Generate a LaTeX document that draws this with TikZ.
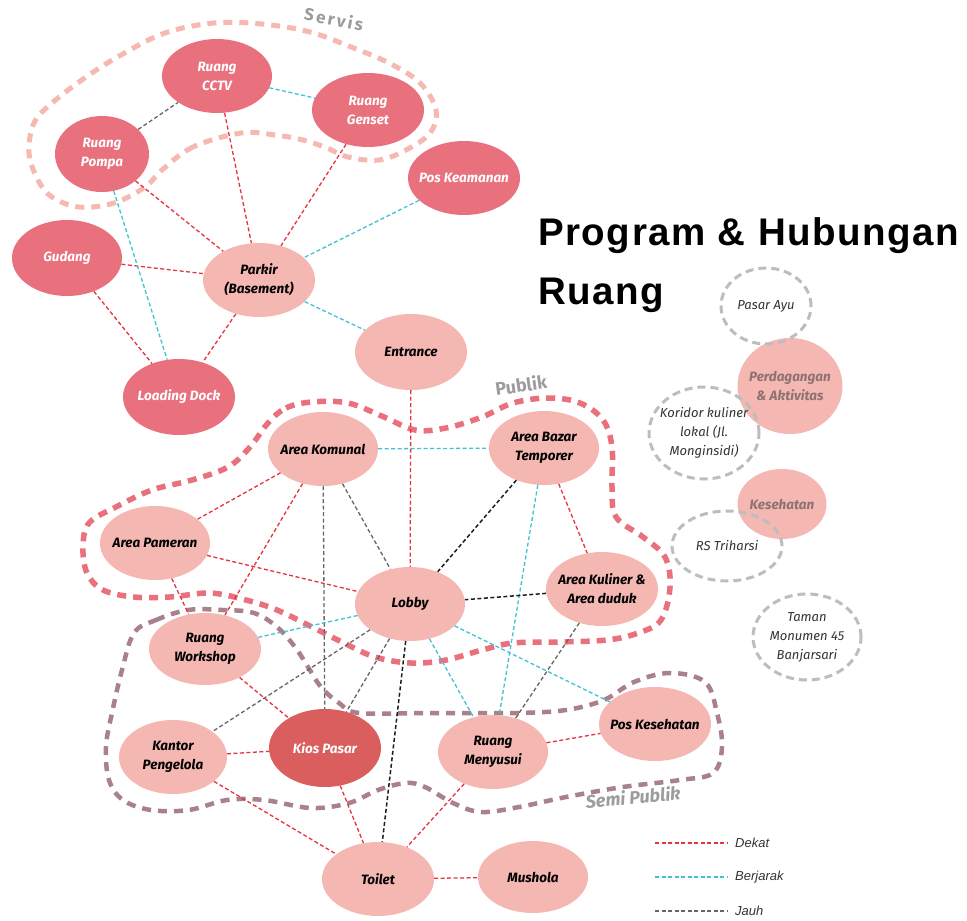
\documentclass[tikz,border=0pt]{standalone}
\usepackage{fontspec}
\setmainfont{Fira Sans}
\newfontfamily\titlefont[LetterSpace=4]{Liberation Sans}
\newfontfamily\legfont{Liberation Sans}
\newfontfamily\zfont[LetterSpace=14]{Fira Sans}
\usetikzlibrary{shapes.geometric}
\definecolor{srv}{HTML}{E9707D}
\definecolor{lite}{HTML}{F4B7B1}
\definecolor{kiosc}{HTML}{DA5E5E}
\definecolor{dk}{HTML}{E5333F}
\definecolor{bj}{HTML}{3EC3D5}
\definecolor{jh}{HTML}{666666}
\definecolor{jb}{HTML}{1E1E1E}
\definecolor{zsrv}{HTML}{F5B9B2}
\definecolor{zpub}{HTML}{E9707D}
\definecolor{zsemi}{HTML}{A9808B}
\definecolor{lbl}{HTML}{9C9C9C}
\definecolor{extc}{HTML}{BDBDBD}
\definecolor{exttext}{HTML}{333333}
\definecolor{cat}{HTML}{8E7272}
\begin{document}
\begin{tikzpicture}[x=1pt,y=-1pt,
  sz/.style 2 args={minimum width=#1pt, minimum height=#2pt},
  room/.style={ellipse, inner xsep=-14pt, inner ysep=-6pt, align=center, font=\fontsize{13.5}{19}\selectfont\bfseries\itshape},
  srvroom/.style={room, fill=srv, text=white},
  pubroom/.style={room, fill=lite, text=black},
  kiosroom/.style={room, fill=kiosc, text=white},
  catroom/.style={room, fill=lite, text=cat},
  ext/.style={ellipse, inner xsep=-14pt, inner ysep=-8pt, align=center, draw=extc, line width=3pt, dash pattern=on 8pt off 5pt, text=exttext, font=\fontsize{13}{19}\selectfont\itshape},
  dekat/.style={draw=dk, line width=1.3pt, dash pattern=on 4pt off 2.5pt},
  berjarak/.style={draw=bj, line width=1.3pt, dash pattern=on 4pt off 2.5pt},
  jauh/.style={draw=jh, line width=1.3pt, dash pattern=on 4pt off 2.5pt},
  jauhb/.style={draw=jb, line width=1.5pt, dash pattern=on 4pt off 2.5pt},
  zone/.style={line width=5pt, dash pattern=on 9pt off 7pt, line cap=butt},
  zlabel/.style={text=lbl, font=\fontsize{18}{20}\selectfont\bfseries}
]
\useasboundingbox (0,0) rectangle (967,921);
\fill[white] (0,0) rectangle (967,921);

% zones
\draw[zone, draw=zsrv] plot[smooth cycle, tension=0.6] coordinates {
 (241,133) (193,147) (162,170) (145,187) (114,203) (79,207) (52,197) (38,180) (29,153) (34,123) (52,103) (86,77) (121,55) (165,33) (214,23) (262,24) (310,32) (351,47) (389,63) (420,83) (436,110) (430,133) (406,150) (379,160) (348,157) (327,148) (303,140) (275,135)};
\draw[zone, draw=zpub, line width=5.5pt] plot[smooth cycle, tension=0.6] coordinates {
 (268,423) (286,408) (312,402) (348,403) (384,417) (415,430) (446,428) (482,417) (513,403) (549,398) (580,403) (603,420) (612,447) (612,487) (616,517) (643,537) (665,557) (670,587) (661,620) (638,633) (607,640) (558,642) (513,643) (482,650) (446,660) (411,663) (375,657) (344,643) (312,627) (277,610) (246,600) (210,593) (170,597) (134,597) (103,590) (87,573) (83,547) (89,523) (116,507) (152,490) (192,480) (228,467) (250,447)};
\draw[zone, draw=zsemi, line width=4.5pt] plot[smooth cycle, tension=0.6] coordinates {
 (134,633) (156,620) (188,610) (223,610) (254,613) (277,627) (295,647) (308,667) (321,687) (339,703) (359,713) (425,713) (472,713) (519,713) (566,710) (604,700) (634,682) (670,673) (705,682) (717,713) (722,747) (713,773) (680,780) (623,787) (566,797) (519,807) (481,812) (453,803) (425,787) (406,783) (378,790) (349,803) (311,808) (264,800) (227,800) (189,810) (151,810) (123,800) (109,780) (106,747) (112,713) (122,670)};

\node[zlabel, rotate=-11, font=\zfont\fontsize{17}{20}\selectfont\bfseries] (lservis) at (334,19) {Servis};
\node[zlabel, rotate=8] (lpublik) at (521,385) {Publik};
\node[zlabel, rotate=5, font=\fontsize{18}{20}\selectfont\bfseries\itshape] (lsemi) at (633,797) {Semi Publik};

% nodes
\node[srvroom, sz={110}{74}] (cctv) at (217,76) {Ruang\\CCTV};
\node[srvroom, sz={112}{74}] (genset) at (368,110) {Ruang\\Genset};
\node[srvroom, sz={94}{76}] (pompa) at (102,154) {Ruang\\Pompa};
\node[srvroom, sz={112}{74}] (poskeam) at (464,178) {Pos Keamanan};
\node[srvroom, sz={110}{76}] (gudang) at (67,258) {Gudang};
\node[pubroom, sz={112}{74}] (parkir) at (259,280) {Parkir\\(Basement)};
\node[pubroom, sz={112}{76}] (entrance) at (411,352) {Entrance};
\node[srvroom, sz={112}{76}] (loading) at (179,397) {Loading Dock};
\node[pubroom, sz={110}{74}] (komunal) at (323,449) {Area Komunal};
\node[pubroom, sz={110}{74}] (bazar) at (544,448) {Area Bazar\\Temporer};
\node[pubroom, sz={110}{74}] (pameran) at (155,543) {Area Pameran};
\node[pubroom, sz={110}{74}] (lobby) at (410,604) {Lobby};
\node[pubroom, sz={112}{74}] (kuliner) at (602,589) {Area Kuliner \&\\Area duduk};
\node[pubroom, sz={112}{72}] (workshop) at (205,649) {Ruang\\Workshop};
\node[pubroom, sz={108}{74}] (kantor) at (173,757) {Kantor\\Pengelola};
\node[kiosroom, sz={112}{78}] (kios) at (325,748) {Kios Pasar};
\node[pubroom, sz={110}{74}] (menyusui) at (493,752) {Ruang\\Menyusui};
\node[pubroom, sz={112}{74}] (poskes) at (655,724) {Pos Kesehatan};
\node[pubroom, sz={112}{74}] (toilet) at (378,879) {Toilet};
\node[pubroom, sz={110}{72}] (mushola) at (533,877) {Mushola};

% edges
\draw[jauh] (pompa) -- (cctv);
\draw[berjarak] (cctv) -- (genset);
\draw[dekat] (pompa) -- (parkir);
\draw[dekat] (cctv) -- (parkir);
\draw[dekat] (genset) -- (parkir);
\draw[berjarak] (poskeam) -- (parkir);
\draw[dekat] (gudang) -- (parkir);
\draw[berjarak] (pompa) -- (loading);
\draw[dekat] (gudang) -- (loading);
\draw[dekat] (parkir) -- (loading);
\draw[berjarak] (parkir) -- (entrance);
\draw[dekat] (entrance) -- (lobby);
\draw[berjarak] (komunal) -- (bazar);
\draw[dekat] (komunal) -- (pameran);
\draw[dekat] (komunal) -- (workshop);
\draw[jauh] (komunal) -- (kios);
\draw[jauh] (komunal) -- (lobby);
\draw[jauhb] (bazar) -- (lobby);
\draw[dekat] (bazar) -- (kuliner);
\draw[berjarak] (bazar) -- (menyusui);
\draw[dekat] (pameran) -- (lobby);
\draw[dekat] (pameran) -- (workshop);
\draw[jauhb] (kuliner) -- (lobby);
\draw[jauh] (kuliner) -- (menyusui);
\draw[berjarak] (lobby) -- (workshop);
\draw[jauh] (lobby) -- (kantor);
\draw[jauh] (lobby) -- (kios);
\draw[jauhb] (lobby) -- (toilet);
\draw[berjarak] (lobby) -- (menyusui);
\draw[berjarak] (lobby) -- (poskes);
\draw[dekat] (workshop) -- (kios);
\draw[dekat] (kantor) -- (kios);
\draw[dekat] (kantor) -- (toilet);
\draw[dekat] (kios) -- (toilet);
\draw[dekat] (menyusui) -- (toilet);
\draw[dekat] (menyusui) -- (poskes);
\draw[dekat] (toilet) -- (mushola);

% title
\node[anchor=base west, inner sep=0pt, font=\titlefont\fontsize{38.5}{58}\selectfont\bfseries] (title1) at (538,245) {Program \& Hubungan};
\node[anchor=base west, inner sep=0pt, font=\titlefont\fontsize{38.5}{58}\selectfont\bfseries] (title2) at (538,304) {Ruang};

% context
\node[catroom, sz={105}{96}] (dagang) at (790,386) {Perdagangan\\\& Aktivitas};
\node[catroom, sz={89}{70}] (sehat) at (782,504) {Kesehatan};
\node[ext, sz={90}{76}] (pasar) at (766,306) {Pasar Ayu};
\node[ext, sz={110}{92}] (koridor) at (704,433) {Koridor kuliner\\lokal (Jl.\\Monginsidi)};
\node[ext, sz={110}{70}] (rs) at (727,546) {RS Triharsi};
\node[ext, sz={108}{86}] (taman) at (807,637) {Taman\\Monumen 45\\Banjarsari};

% legend
\coordinate (d1) at (655,843); \coordinate (d2) at (727,843);
\coordinate (b1) at (655,877); \coordinate (b2) at (727,877);
\coordinate (j1) at (655,911); \coordinate (j2) at (727,911);
\draw[dekat, line width=1.1pt] (d1) -- (d2);
\draw[berjarak, line width=1.1pt] (b1) -- (b2);
\draw[jauh, line width=1.1pt] (j1) -- (j2);
\node[anchor=west, inner sep=0pt, text=exttext, font=\legfont\fontsize{13}{15}\selectfont\itshape] (ld) at (735,843) {Dekat};
\node[anchor=west, inner sep=0pt, text=exttext, font=\legfont\fontsize{13}{15}\selectfont\itshape] (lb) at (735,877) {Berjarak};
\node[anchor=west, inner sep=0pt, text=exttext, font=\legfont\fontsize{13}{15}\selectfont\itshape] (lj) at (735,911) {Jauh};
\end{tikzpicture}
\end{document}
